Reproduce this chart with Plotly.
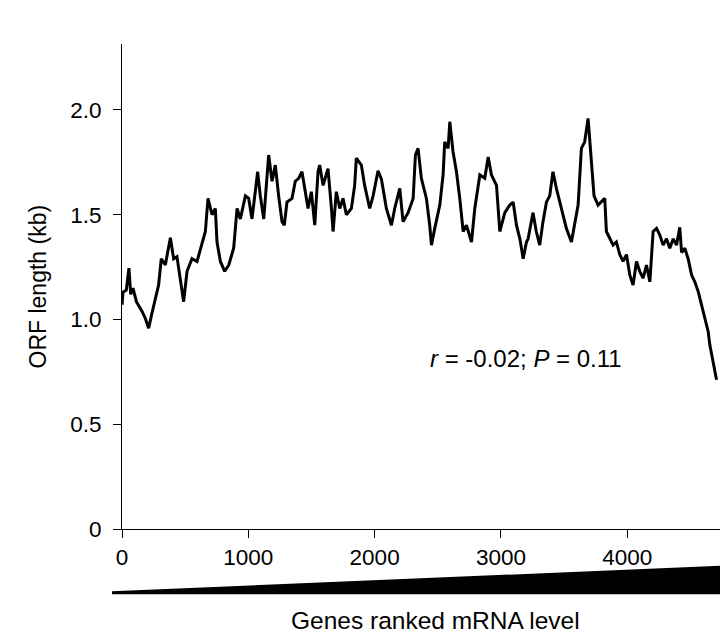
import plotly.graph_objects as go

# Genes ranked by mRNA level (rank) and running-average ORF length (kb)
gene_rank = [
    0, 8, 34, 55, 69, 87, 114, 158, 185, 211, 237, 264, 290, 311, 343, 383, 409, 435,
    462, 488, 515, 554, 594, 633, 660, 681, 713, 739, 752, 779, 813, 845, 884, 911,
    937, 977, 1003, 1029, 1056, 1074, 1095, 1122, 1135, 1161, 1188, 1214, 1240, 1267,
    1285, 1306, 1346, 1372, 1399, 1425, 1451,
    1473, 1499, 1526, 1552, 1565, 1592, 1631, 1658, 1671, 1697, 1724, 1750, 1776,
    1816, 1842, 1855, 1895, 1921, 1961, 1988, 2027, 2054, 2093, 2133, 2159, 2199,
    2225, 2265, 2305, 2323, 2344, 2370, 2410, 2436, 2450, 2476, 2516, 2542, 2555,
    2582, 2595, 2621, 2648, 2674, 2701, 2727, 2767, 2793, 2833, 2872, 2899, 2925,
    2965, 2991, 3031, 3070, 3097, 3123, 3150, 3176, 3202,
    3215, 3254, 3280, 3307, 3333, 3360, 3386, 3412, 3439, 3465, 3492, 3518, 3558,
    3584, 3611, 3637, 3663, 3690, 3703, 3716, 3737, 3769, 3795, 3822, 3835, 3861,
    3888, 3914, 3941, 3967, 3994, 4020, 4046, 4073, 4099, 4126, 4152, 4179, 4205,
    4232, 4258, 4284, 4311, 4337, 4364, 4390, 4416, 4430, 4456, 4482, 4509, 4535,
    4562, 4588, 4614, 4641, 4654, 4673, 4694, 4707,
]
orf_length_kb = [
    1.07, 1.13, 1.14, 1.245, 1.12, 1.15, 1.085, 1.04, 1.005, 0.958, 1.03, 1.10, 1.165,
    1.29, 1.26, 1.39, 1.29, 1.30, 1.197, 1.085, 1.23, 1.29, 1.277, 1.355, 1.42, 1.578,
    1.50, 1.53, 1.37, 1.277, 1.23, 1.26, 1.34, 1.53, 1.48, 1.59, 1.578, 1.48, 1.61,
    1.705, 1.59, 1.48, 1.578, 1.785, 1.66, 1.737, 1.59, 1.467, 1.45, 1.56, 1.578, 1.66,
    1.674, 1.705, 1.61,
    1.53, 1.61, 1.45, 1.705, 1.737, 1.64, 1.72, 1.53, 1.42, 1.61, 1.53, 1.578, 1.50,
    1.53, 1.64, 1.77, 1.737, 1.64, 1.53, 1.59, 1.71, 1.67, 1.53, 1.45, 1.53, 1.626,
    1.467, 1.51, 1.578, 1.785, 1.817, 1.674, 1.578, 1.45, 1.355, 1.435, 1.546, 1.69,
    1.848, 1.817, 1.944, 1.80, 1.705, 1.578, 1.42, 1.45, 1.37, 1.53, 1.69, 1.674,
    1.776, 1.69, 1.64, 1.42, 1.51, 1.546, 1.56, 1.45, 1.385, 1.29, 1.37,
    1.385, 1.51, 1.42, 1.355, 1.467, 1.56, 1.59, 1.705, 1.626, 1.56, 1.50, 1.435, 1.37,
    1.45, 1.546, 1.817, 1.848, 1.96, 1.86, 1.77, 1.59, 1.546, 1.56, 1.578, 1.42, 1.385,
    1.355, 1.37, 1.31, 1.277, 1.31, 1.213, 1.165, 1.277, 1.23, 1.197, 1.26, 1.18, 1.42,
    1.435, 1.403, 1.355, 1.385, 1.34, 1.385, 1.355, 1.44, 1.32, 1.34, 1.29, 1.213, 1.18,
    1.133, 1.07, 1.005, 0.942, 0.878, 0.815, 0.752, 0.712,
]

x_tick_vals = [0, 1000, 2000, 3000, 4000]
x_tick_text = ["0", "1000", "2000", "3000", "4000"]
y_tick_vals = [0, 0.5, 1.0, 1.5, 2.0]
y_tick_text = ["0", "0.5", "1.0", "1.5", "2.0"]

FONT = "Arial, Liberation Sans, sans-serif"

fig = go.Figure()
fig.add_trace(go.Scatter(
    x=gene_rank, y=orf_length_kb, mode="lines",
    line=dict(color="black", width=3),
    showlegend=False, hoverinfo="skip",
))

fig.update_layout(
    width=728, height=637,
    margin=dict(l=114, r=0, t=36, b=116),
    paper_bgcolor="white", plot_bgcolor="white",
    font=dict(family=FONT, size=22.5, color="black"),
    xaxis=dict(
        range=[0, 4861], tickvals=x_tick_vals, ticktext=x_tick_text,
        showline=True, linecolor="black", linewidth=1,
        ticks="outside", ticklen=8, tickcolor="black", tickwidth=1,
        showgrid=False, zeroline=False, tickfont=dict(size=22.5),
    ),
    yaxis=dict(
        range=[0, 2.315], tickvals=y_tick_vals, ticktext=y_tick_text,
        showline=True, linecolor="black", linewidth=1,
        ticks="outside", ticklen=8, tickcolor="black", tickwidth=1,
        showgrid=False, zeroline=False, tickfont=dict(size=22.5),
        ticklabelstandoff=7,
    ),
    shapes=[
        dict(type="path", xref="paper", yref="paper",
             path="M -0.0163,-0.1285 L 1,-0.0745 L 1,-0.1345 L -0.0163,-0.1345 Z",
             fillcolor="black", line=dict(width=0)),
    ],
    annotations=[
        dict(text="<i>r</i> = -0.02; <i>P</i> = 0.11", x=3200, y=0.815,
             xref="x", yref="y", showarrow=False, font=dict(size=24),
             xanchor="center", yanchor="middle"),
        dict(text="Genes ranked mRNA level", x=0.51, y=-0.188,
             xref="paper", yref="paper", showarrow=False, font=dict(size=24.5),
             xanchor="center", yanchor="middle"),
        dict(text="ORF length (kb)", x=(29 - 114) / 614, y=0.5,
             xref="paper", yref="paper", showarrow=False, font=dict(size=23),
             textangle=-90, xanchor="center", yanchor="middle"),
    ],
)

fig.write_html("out.html")
